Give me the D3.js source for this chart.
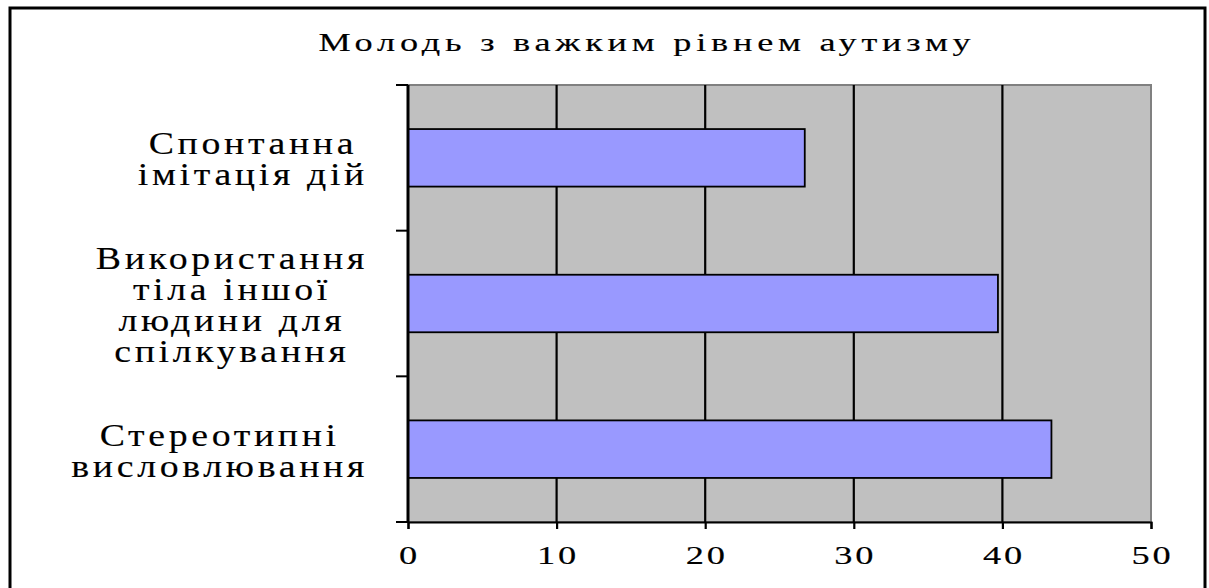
<!DOCTYPE html>
<html><head><meta charset="utf-8">
<script src="https://cdn.jsdelivr.net/npm/d3@7"></script>
<style>body{margin:0;background:#fff}svg{display:block}text{font-family:"Liberation Serif","Times New Roman",serif;fill:#000;stroke:#000;stroke-width:0.15px}</style>
</head><body>
<svg id="c" width="1209" height="588"></svg>
<script>
const title = "Молодь з важким рівнем аутизму";
const categories = ["Спонтанна імітація дій", "Використання тіла іншої людини для спілкування", "Стереотипні висловлювання"];
const categoryLines = [["Спонтанна", "імітація дій"], ["Використання", "тіла іншої", "людини для", "спілкування"], ["Стереотипні", "висловлювання"]];
const values = [26.7, 39.7, 43.3];
const xTicks = [0, 10, 20, 30, 40, 50];

const svg = d3.select("#c");
const L = 408, R = 1151, T = 85, B = 522;
const x = d3.scaleLinear().domain([0, 50]).range([L, R]);
const y = d3.scaleBand().domain(categories).range([T, B]).paddingInner(0.605).paddingOuter(0.3025);

// outer border
svg.append("rect").attr("x", 10).attr("y", 8).attr("width", 1195).attr("height", 600)
  .attr("fill", "#fff").attr("stroke", "#000").attr("stroke-width", 3);

// plot area
svg.append("rect").attr("x", L).attr("y", T).attr("width", R - L).attr("height", B - T)
  .attr("fill", "#c0c0c0").attr("stroke", "#808080").attr("stroke-width", 2);

// gridlines
svg.append("g").selectAll("line").data(xTicks.filter(d => d > 0 && d < 50)).join("line")
  .attr("x1", d => x(d)).attr("x2", d => x(d)).attr("y1", T).attr("y2", B)
  .attr("stroke", "#000").attr("stroke-width", 2.2);

// bars
svg.append("g").selectAll("rect").data(categories).join("rect")
  .attr("x", x(0)).attr("y", d => y(d))
  .attr("width", (d, i) => x(values[i]) - x(0)).attr("height", y.bandwidth())
  .attr("fill", "#9999ff").attr("stroke", "#000").attr("stroke-width", 1.8);

// x axis
const xAxis = svg.append("g").attr("transform", `translate(0,${B})`)
  .call(d3.axisBottom(x).tickValues(xTicks).tickSize(7).tickFormat(d3.format("d")));
xAxis.select(".domain").attr("stroke", "#000").attr("stroke-width", 2);
xAxis.selectAll(".tick line").attr("stroke", "#000").attr("stroke-width", 2.2);
xAxis.selectAll(".tick text").remove();
xAxis.selectAll(".tick").append("text")
  .attr("text-anchor", "middle").attr("transform", "translate(1,42) scale(1.4,1)")
  .style("font-size", "26px").style("letter-spacing", "2px")
  .text(d => d);

// y axis
const step = y.step();
const yb = d3.range(categories.length + 1).map(i => T + i * step);
svg.append("line").attr("x1", L).attr("x2", L).attr("y1", T).attr("y2", B)
  .attr("stroke", "#000").attr("stroke-width", 3);
svg.append("g").selectAll("line").data(yb).join("line")
  .attr("x1", L - 12).attr("x2", L).attr("y1", d => d).attr("y2", d => d)
  .attr("stroke", "#000").attr("stroke-width", 2);

// title
svg.append("text").attr("text-anchor", "middle")
  .attr("transform", "translate(647,51) scale(1.45,1)")
  .style("font-size", "25px").style("letter-spacing", "3.3px")
  .text(title);

// category labels
const sx = 1.22, lh = 31;
categories.forEach((c, i) => {
  const lines = categoryLines[i];
  const cy = y(c) + y.bandwidth() / 2;
  const g = svg.append("g");
  const texts = g.selectAll("text").data(lines).join("text")
    .attr("text-anchor", "middle")
    .attr("transform", (d, j) => `translate(0,${cy - (lines.length - 1) * lh / 2 + 12 + j * lh}) scale(${sx},1)`)
    .style("font-size", "31px").style("letter-spacing", "3px")
    .text(d => d);
  let maxW = 0;
  texts.each(function () { maxW = Math.max(maxW, this.getBBox().width * sx); });
  g.attr("transform", `translate(${L - 40 - maxW / 2},0)`);
});
</script>
</body></html>
